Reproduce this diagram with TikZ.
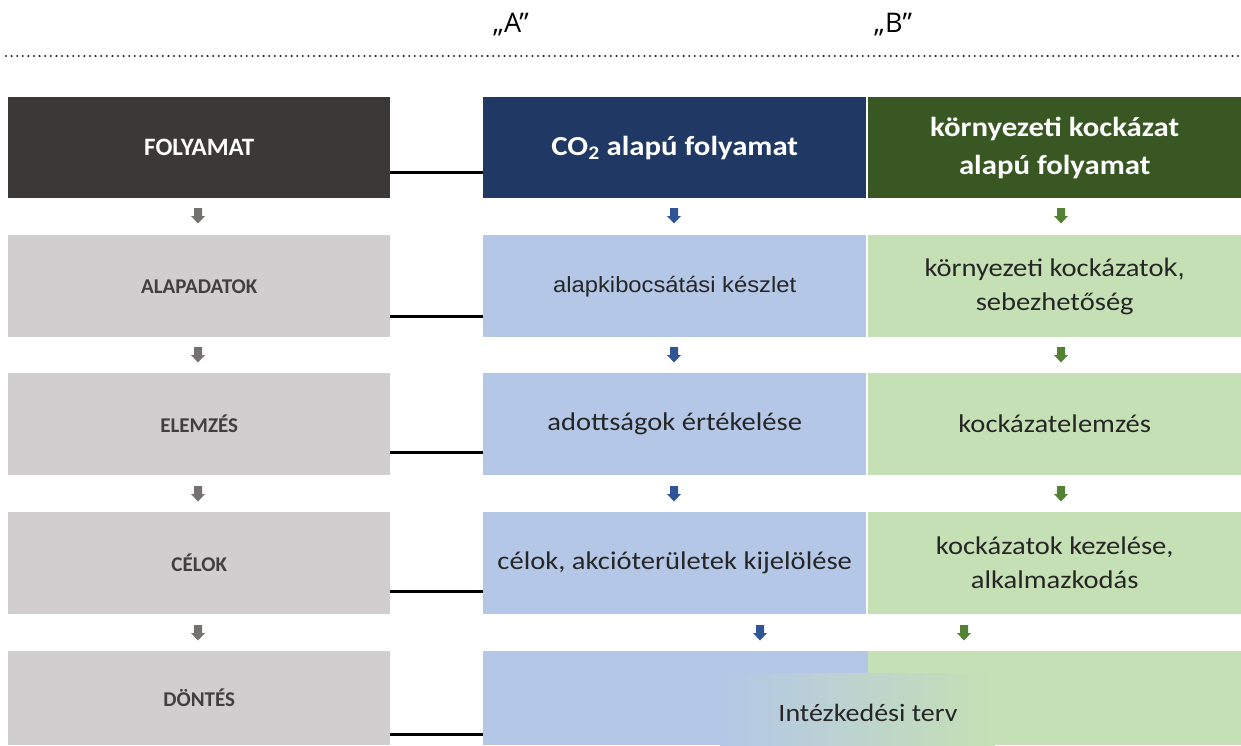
\documentclass[tikz,border=0pt]{standalone}
\usepackage{fontspec}
\setmainfont{Carlito}
\newfontfamily\bodyfont[FakeStretch=1.12]{Carlito}
\newfontfamily\arialfont[FakeStretch=1.08]{Liberation Sans}
\newfontfamily\topfont{Open Sans}
\definecolor{darkhead}{HTML}{3B3838}
\definecolor{bluehead}{HTML}{1F3864}
\definecolor{greenhead}{HTML}{385723}
\definecolor{graybox}{HTML}{D0CECE}
\definecolor{bluebox}{HTML}{B4C7E7}
\definecolor{greenbox}{HTML}{C5E0B4}
\definecolor{grayarrow}{HTML}{767171}
\definecolor{bluearrow}{HTML}{2F5597}
\definecolor{greenarrow}{HTML}{548235}
\definecolor{txtgray}{HTML}{404040}
\definecolor{txtdark}{HTML}{262626}
% small block arrow pointing down, centred on a named coordinate
\newcommand{\flowarrow}[3]{%
  \coordinate (#1) at #2;
  \fill[#3, shift={(#1)}] (-4,-8) -- (4,-8) -- (4,0) -- (7,0) -- (0,7.5)
    -- (-7,0) -- (-4,0) -- cycle;}
\begin{document}
\begin{tikzpicture}[x=1pt,y=-1pt,
  cell/.style={rectangle, inner sep=0pt, anchor=north west, align=center},
  leftcell/.style={cell, fill=graybox, minimum width=382pt, minimum height=102pt,
    text=txtgray, font=\bfseries\fontsize{21}{25}\selectfont},
  bluecell/.style={cell, fill=bluebox, minimum width=383pt, minimum height=102pt,
    text=txtdark, font=\bodyfont\fontsize{25.5}{34}\selectfont},
  greencell/.style={cell, fill=greenbox, minimum width=373pt, minimum height=102pt,
    text=txtdark, font=\bodyfont\fontsize{25.5}{34}\selectfont},
  headfont/.style={text=white, font=\bodyfont\bfseries\fontsize{27.5}{38}\selectfont},
  link/.style={line width=3pt, black}
]
\useasboundingbox (0,0) rectangle (1241,745);

% column titles and dotted rule
\node[font=\topfont\fontsize{27}{31}\selectfont] (tA) at (511,25) {„A”};
\node[font=\topfont\fontsize{27}{31}\selectfont] (tB) at (893,25) {„B”};
\draw[line width=2.3pt, line cap=round, dash pattern=on 0pt off 5.6pt, black!85] (6,56) -- (1238,56);

% header row
\node[cell, fill=darkhead, minimum width=382pt, minimum height=101pt, text=white,
      font=\bfseries\fontsize{25}{30}\selectfont] (proc) at (8,97) {FOLYAMAT};
\node[cell, fill=bluehead, minimum width=383pt, minimum height=101pt, headfont] (co2h) at (483,97)
  {CO\textsubscript{2} alapú folyamat};
\node[cell, fill=greenhead, minimum width=373pt, minimum height=101pt, headfont] (envh) at (868,97)
  {környezeti kockázat\\alapú folyamat};

% step rows
\node[leftcell] (base) at (8,235) {ALAPADATOK};
\node[leftcell] (anal) at (8,373) {ELEMZÉS};
\node[leftcell] (goal) at (8,512) {CÉLOK};
\node[leftcell, minimum height=94pt] (dec) at (8,651) {DÖNTÉS};

\node[bluecell, font=\arialfont\fontsize{22}{26}\selectfont] (co2a) at (483,235) {alapkibocsátási készlet};
\node[bluecell] (co2b) at (483,373) {adottságok értékelése};
\node[bluecell] (co2c) at (483,512) {célok, akcióterületek kijelölése};

\node[greencell] (enva) at (868,235) {környezeti kockázato{\arialfont k,}\\sebezhetőség};
\node[greencell] (envb) at (868,373) {kockázatelemzés};
\node[greencell] (envc) at (868,512) {kockázatok kezelése,\\alkalmazkodás};

% merged action-plan block
\node[cell, fill=bluebox, minimum width=385pt, minimum height=94pt] (planl) at (483,651) {};
\node[cell, fill=greenbox, minimum width=373pt, minimum height=94pt] (planr) at (868,651) {};
\node[cell, left color=bluebox, right color=greenbox, minimum width=275pt, minimum height=72pt] (planm) at (720,673) {};
\node[text=txtdark, font=\bodyfont\fontsize{25}{30}\selectfont] (plan) at (868,713) {Intézkedési terv};

% downward flow arrows
\flowarrow{ga1}{(198,216)}{grayarrow}
\flowarrow{ga2}{(198,355)}{grayarrow}
\flowarrow{ga3}{(198,494)}{grayarrow}
\flowarrow{ga4}{(198,633)}{grayarrow}
\flowarrow{ba1}{(674,216)}{bluearrow}
\flowarrow{ba2}{(674,355)}{bluearrow}
\flowarrow{ba3}{(674,494)}{bluearrow}
\flowarrow{ba4}{(760,633)}{bluearrow}
\flowarrow{na1}{(1061,216)}{greenarrow}
\flowarrow{na2}{(1061,355)}{greenarrow}
\flowarrow{na3}{(1061,494)}{greenarrow}
\flowarrow{na4}{(964,633)}{greenarrow}

% links from the process steps to the "A" column
\draw[link] ([yshift=26pt]proc.south east) -- ([yshift=26pt]co2h.south west);
\draw[link] ([yshift=21pt]base.south east) -- ([yshift=21pt]co2a.south west);
\draw[link] ([yshift=23pt]anal.south east) -- ([yshift=23pt]co2b.south west);
\draw[link] ([yshift=23pt]goal.south east) -- ([yshift=23pt]co2c.south west);
\draw[link] ([yshift=-83pt]dec.north east) -- ([yshift=-83pt]planl.north west);
\end{tikzpicture}
\end{document}
